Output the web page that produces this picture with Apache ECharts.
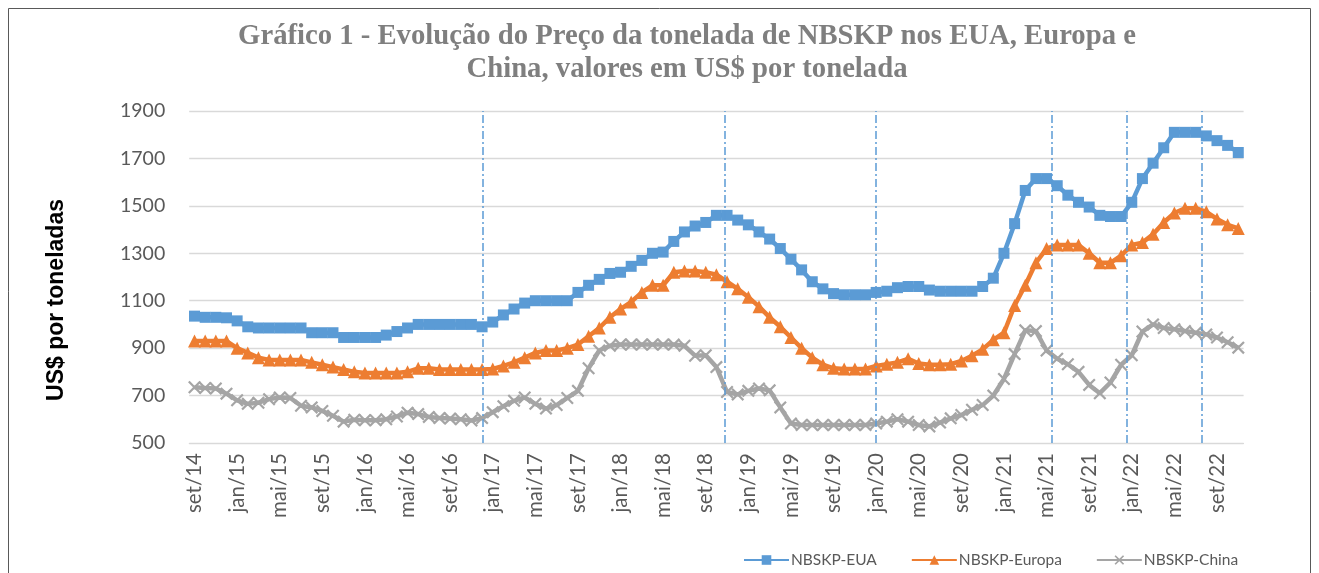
<!DOCTYPE html>
<html lang="pt-BR">
<head>
<meta charset="utf-8">
<title>Gráfico 1 - NBSKP</title>
<script src="https://cdn.jsdelivr.net/npm/echarts@6/dist/echarts.min.js"></script>
<style>
  html, body { margin: 0; padding: 0; background: #fff; }
  #grafico { width: 1319px; height: 573px; }
</style>
</head>
<body>
<div id="grafico"></div>
<script>
"use strict";

/* =====================================================
   Dados (US$ por tonelada, mensal, set/14 a nov/22)
   ===================================================== */
const abrev = ["jan", "fev", "mar", "abr", "mai", "jun", "jul", "ago", "set", "out", "nov", "dez"];
const meses = [];
for (let k = 0; k < 99; k++) {
  meses.push(abrev[(8 + k) % 12] + "/" + (14 + Math.floor((8 + k) / 12)));
}

const eua = [
  1035, 1030, 1030, 1028, 1015, 990, 985, 985, 985, 985, 985, 965,
  965, 965, 945, 945, 945, 945, 955, 970, 985, 1000, 1000, 1000,
  1000, 1000, 1000, 990, 1010, 1040, 1065, 1090, 1100, 1100, 1100, 1100,
  1135, 1165, 1190, 1215, 1220, 1245, 1270, 1300, 1305, 1350, 1390, 1415,
  1430, 1460, 1460, 1440, 1420, 1390, 1360, 1320, 1275, 1230, 1180, 1150,
  1130, 1125, 1125, 1125, 1135, 1140, 1155, 1160, 1160, 1145, 1140, 1140,
  1140, 1140, 1160, 1195, 1300, 1425, 1565, 1615, 1615, 1585, 1545, 1515,
  1495, 1460, 1455, 1455, 1515, 1615, 1680, 1745, 1810, 1810, 1810, 1795,
  1775, 1755, 1725
];

const europa = [
  930, 930, 930, 930, 900, 880, 860, 850, 850, 850, 850, 840,
  830, 820, 810, 800, 795, 795, 795, 795, 800, 815, 815, 810,
  810, 810, 810, 810, 812, 825, 840, 860, 880, 890, 890, 900,
  915, 950, 985, 1030, 1065, 1095, 1135, 1165, 1165, 1220, 1225, 1225,
  1220, 1210, 1180, 1150, 1115, 1075, 1030, 990, 945, 900, 860, 830,
  815, 812, 812, 812, 825, 832, 840, 855, 835, 830, 830, 832,
  846, 868, 895, 935, 965, 1080, 1165, 1260, 1320, 1335, 1335, 1335,
  1300, 1260, 1260, 1290, 1335, 1345, 1380, 1430, 1470, 1490, 1490, 1475,
  1445, 1420, 1405
];

const china = [
  735, 732, 730, 708, 680, 665, 670, 685, 692, 690, 657, 650,
  635, 615, 590, 598, 596, 596, 600, 612, 628, 622, 610, 605,
  603, 600, 595, 605, 630, 655, 678, 692, 665, 645, 660, 690,
  720, 815, 890, 910, 915, 915, 915, 915, 915, 915, 910, 868,
  870, 820, 715, 705, 720, 730, 722, 650, 582, 576, 576, 576,
  576, 576, 576, 576, 582, 590, 600, 590, 576, 570, 586, 604,
  618, 640, 660, 700, 770, 875, 975, 972, 890, 855, 832, 800,
  745, 710, 755, 830, 870, 970, 1000, 985, 980, 972, 965, 958,
  945, 925, 902
];

// linhas verticais tracejadas (posição em meses a partir de set/14)
const marcos = [27.55, 50.3, 64.5, 81.0, 88.0, 95.1];

/* =====================================================
   Gráfico
   ===================================================== */
const CORES = { eua: "#5B9BD5", europa: "#ED7D31", china: "#A5A5A5" };
const X_PATH = "path://M0,1.2L1.2,0L5,3.8L8.8,0L10,1.2L6.2,5L10,8.8L8.8,10L5,6.2L1.2,10L0,8.8L3.8,5Z";
const FONTE = "Lato";

const chart = echarts.init(document.getElementById("grafico"), null, { renderer: "canvas" });

function serieLinha(nome, dados, cor, simbolo, tam) {
  return {
    name: nome, type: "line", data: dados,
    symbol: simbolo, symbolSize: tam, showSymbol: true, showAllSymbol: true,
    lineStyle: { color: cor, width: 4.5 },
    itemStyle: { color: cor },
    emphasis: { disabled: true }
  };
}

const option = {
  animation: false,
  backgroundColor: "#fff",
  title: {
    text: "Gráfico 1 - Evolução do Preço da tonelada de NBSKP nos EUA, Europa e\nChina, valores em US$ por tonelada",
    left: 682, top: 15, textAlign: "center",
    textStyle: { fontFamily: "Liberation Serif", fontWeight: "bold", fontSize: 28.7, lineHeight: 33, color: "#7F7F7F" }
  },
  legend: {
    data: ["NBSKP-EUA", "NBSKP-Europa", "NBSKP-China"],
    left: 738, top: 547,
    itemWidth: 45, itemHeight: 12, itemGap: 34,
    textStyle: { fontFamily: FONTE, fontSize: 15.5, color: "#595959", padding: [0, 0, 0, -3] }
  },
  grid: { left: 189.2, right: 75.4, top: 111, bottom: 130 },
  xAxis: [
    {
      type: "category", data: meses, boundaryGap: true,
      axisLine: { lineStyle: { color: "#D9D9D9", width: 1 } },
      axisTick: { interval: 0, length: 5, lineStyle: { color: "#D9D9D9" } },
      axisLabel: { interval: 3, rotate: 90, margin: 10, fontFamily: FONTE, fontSize: 20.5, color: "#595959" },
      splitLine: { show: false }
    },
    { type: "value", min: 0, max: 99, show: false }
  ],
  yAxis: {
    type: "value", min: 500, max: 1900, interval: 200,
    axisLine: { show: false }, axisTick: { show: false },
    axisLabel: { margin: 24, fontFamily: FONTE, fontSize: 19.5, color: "#595959", formatter: v => String(v) },
    splitLine: { lineStyle: { color: "#D9D9D9", width: 1.3 } }
  },
  graphic: [
    {
      type: "rect", silent: true,
      shape: { x: 8.5, y: 8.5, width: 1302, height: 600 },
      style: { fill: "none", stroke: "#595959", lineWidth: 1 }
    },
    {
      type: "text", x: 57, y: 300, rotation: Math.PI / 2, silent: true,
      style: {
        text: "US$ por toneladas", align: "center", verticalAlign: "middle",
        font: "bold 23px 'Liberation Sans'", fill: "#000"
      }
    }
  ],
  series: [
    serieLinha("NBSKP-EUA", eua, CORES.eua, "rect", 11),
    serieLinha("NBSKP-Europa", europa, CORES.europa, "triangle", 13),
    serieLinha("NBSKP-China", china, CORES.china, X_PATH, 13),
    {
      // série auxiliar invisível que só carrega as linhas tracejadas
      name: "marcos", type: "line", xAxisIndex: 1, silent: true,
      data: marcos.map(v => [v, 500]),
      symbol: "none", lineStyle: { opacity: 0 },
      markLine: {
        symbol: "none", silent: true, animation: false,
        label: { show: false },
        lineStyle: { color: CORES.eua, width: 1.5, type: [8, 3, 2, 3], opacity: 1 },
        data: marcos.map(v => ({ xAxis: v }))
      }
    }
  ]
};

chart.setOption(option);
</script>
</body>
</html>
